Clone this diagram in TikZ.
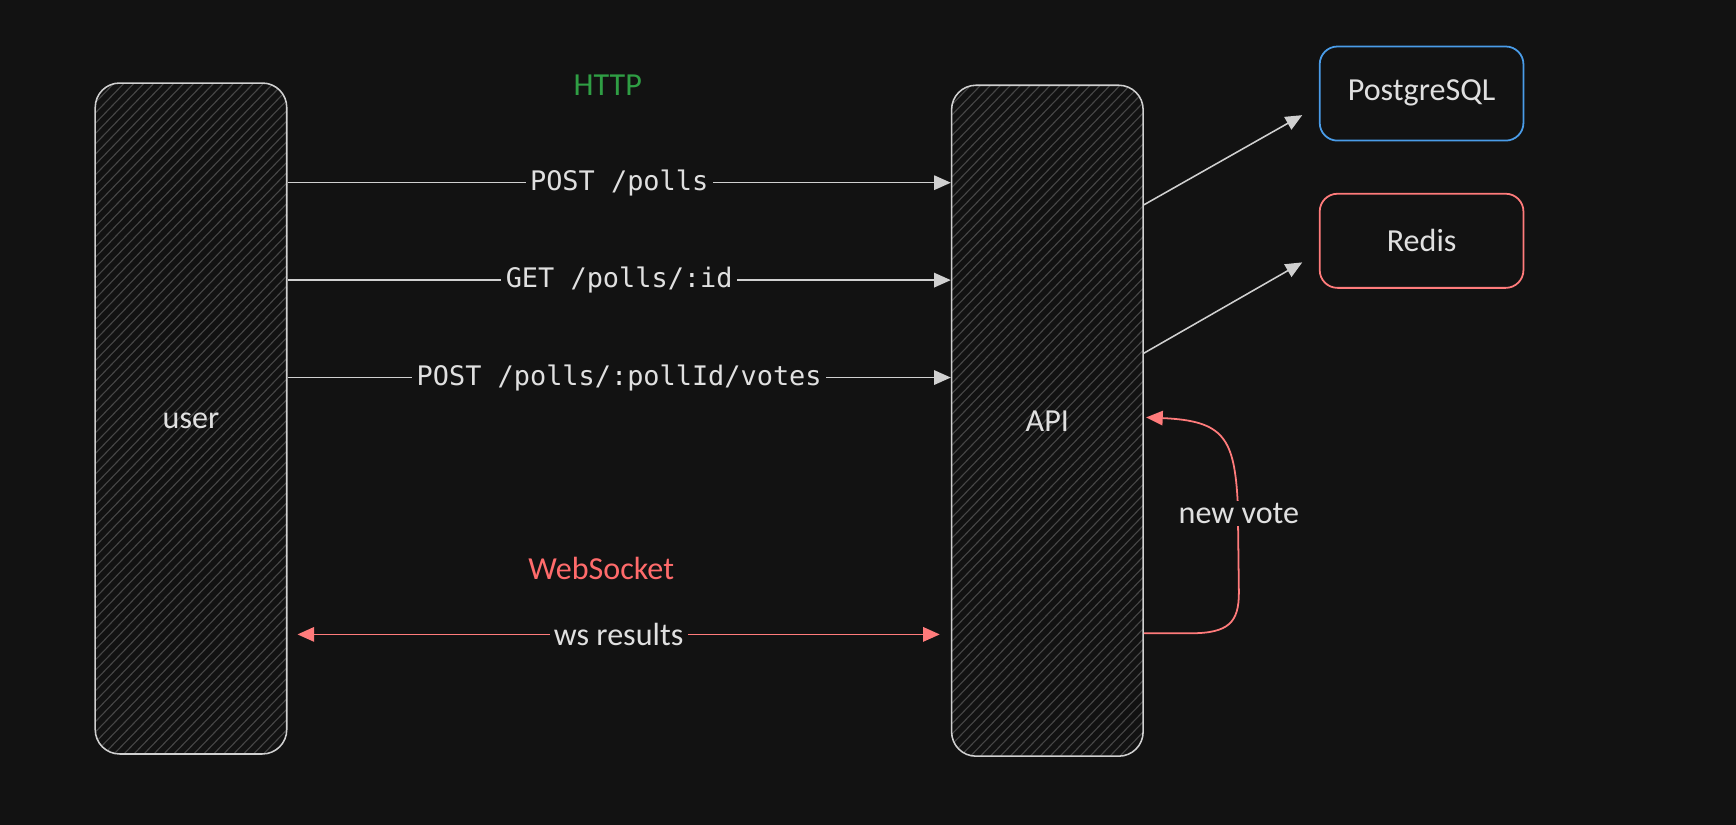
\documentclass[tikz,border=0pt]{standalone}
\usepackage{fontspec}
\setmainfont{Carlito}
\setmonofont{DejaVu Sans Mono}
\usetikzlibrary{arrows.meta,calc}
\definecolor{bg}{HTML}{121212}
\definecolor{stroke}{HTML}{D0D0D0}
\definecolor{txt}{HTML}{E0E0E0}
\definecolor{hatchc}{HTML}{464646}
\definecolor{dbblue}{HTML}{4A9CE8}
\definecolor{dbred}{HTML}{FF7B7B}
\definecolor{httpgreen}{HTML}{2F9E44}
\definecolor{wsred}{HTML}{FF6B6B}
\begin{document}
\begin{tikzpicture}[x=1pt,y=-1pt,
  hand/.style={font=\fontsize{29}{32}\selectfont, text=txt},
  code/.style={font=\ttfamily\fontsize{24.3}{28}\selectfont, text=txt},
  hatched/.style={path picture={\foreach \k in {0,...,100}{\draw[hatchc, line width=1pt] ([xshift=\k*9pt-640pt]path picture bounding box.south west) -- ++(46:1000pt);}}},
  lane/.style={draw=stroke, line width=1.4pt, rounded corners=22pt, minimum width=173pt, minimum height=606pt, hatched, inner sep=0pt},
  db/.style={line width=1.6pt, rounded corners=16pt, minimum width=184pt, minimum height=85pt, fill=bg},
  arr/.style={draw=stroke, line width=1.4pt, -{Triangle[length=15pt,width=13pt]}},
  warr/.style={draw=dbred, line width=1.6pt, {Triangle[length=15pt,width=13pt]}-{Triangle[length=15pt,width=13pt]}},
  lbl/.style={fill=bg, inner xsep=4pt, inner ysep=2pt},
]
\fill[bg] (0,0) rectangle (1568,745);
\useasboundingbox (0,0) rectangle (1568,745);

% lanes
\node[lane] (user) at (172.5,378) {};
\node[hand] (userlbl) at (172.5,380) {user};
\node[lane] (api) at (946,380) {};
\node[hand] (apilbl) at (946,380) {API};

% data stores
\node[db, draw=dbblue] (pg) at (1284,84.5) {};
\node[hand] (pglbl) at (1284,84) {PostgreSQL};
\node[db, draw=dbred] (redis) at (1284,217.5) {};
\node[hand] (redislbl) at (1284,217) {Redis};

% section titles
\node[hand, text=httpgreen] (http) at (549,77) {HTTP};
\node[hand, text=wsred] (wsock) at (543,513) {WebSocket};

% HTTP requests
\draw[arr] (user.east |- 0,165) -- node[lbl, code] {POST /polls} (api.west |- 0,165);
\draw[arr] (user.east |- 0,253) -- node[lbl, code] {GET /polls/:id} (api.west |- 0,253);
\draw[arr] (user.east |- 0,341) -- node[lbl, code] {POST /polls/:pollId/votes} (api.west |- 0,341);

% websocket
\coordinate (wsa) at ($(user.east |- 0,573)+(9,0)$);
\coordinate (wsb) at ($(api.west |- 0,573)+(-10,0)$);
\draw[warr] (wsa) -- node[lbl, hand] {ws results} (wsb);

% API to stores
\draw[arr] (api.east |- 0,185) -- ($(pg.west)+(-15,19.5)$);
\draw[arr] (api.east |- 0,319) -- ($(redis.west)+(-15,19.5)$);

% new vote loop
\coordinate (nvs) at (api.east |- 0,572);
\coordinate (nve) at ($(api.east |- 0,377)+(2,0)$);
\draw[draw=dbred, line width=1.6pt, -{Triangle[length=15pt,width=13pt]}]
  (nvs) -- (1075,572) .. controls (1110,572) and (1119,562) .. (1119,535)
  -- (1118,455) .. controls (1115,395) and (1105,380) .. (nve);
\node[lbl, hand] (nv) at (1119,464) {new vote};
\end{tikzpicture}
\end{document}
